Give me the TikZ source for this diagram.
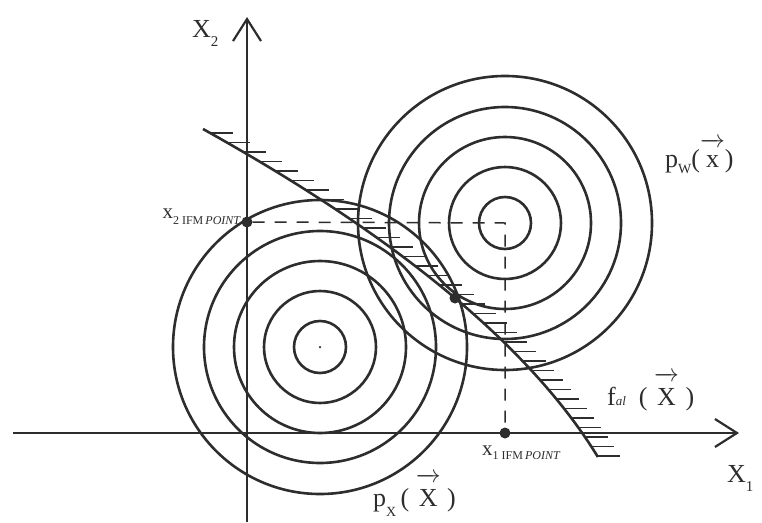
\documentclass[tikz,border=0pt]{standalone}
\usepackage{amsmath}
\usepackage{fontspec}
\setmainfont{Liberation Serif}
\usetikzlibrary{arrows.meta}
\definecolor{ink}{RGB}{45,45,45}
\newcommand{\vecX}[1]{$\overrightarrow{\text{#1}\rule{0pt}{#1pt}}$}
\newcommand{\vecarrow}[2]{$\overrightarrow{\text{#1}\rule{0pt}{#2}}$}
\begin{document}
\begin{tikzpicture}[x=1pt,y=-1pt,
  ring/.style={draw=ink, line width=2.6pt},
  axisline/.style={draw=ink, line width=2.2pt, -{Straight Barb[length=22pt,width=28pt]}},
  curveline/.style={draw=ink, line width=2.6pt},
  hatchline/.style={draw=ink, line width=1.6pt},
  guide/.style={draw=ink, line width=1.5pt, dash pattern=on 12pt off 10pt},
  bigdot/.style={circle, fill=ink, inner sep=0pt, minimum size=11pt},
  smalldot/.style={circle, fill=ink, inner sep=0pt, minimum size=2.5pt},
  lbl/.style={text=ink, inner sep=0pt, font=\fontsize{26}{30}\selectfont},
  plbl/.style={text=ink, inner sep=0pt, font=\fontsize{21}{24}\selectfont}]
\useasboundingbox (0,0) rectangle (762,522);

% centres
\coordinate (cL) at (320,347);
\coordinate (cU) at (505,223);

% concentric rings
\foreach \r in {26,56,86,116,147} {
  \draw[ring] (cL) circle[radius=\r pt];
  \draw[ring] (cU) circle[radius=\r pt];
}
\node[smalldot] (cLdot) at (cL) {};

% constraint curve with hatching
\draw[curveline] plot[domain=129:457, samples=80, variable=\t]
  ({-58.72+226.17*(\t/100)-18.05*(\t/100)*(\t/100)}, \t);
\foreach \t in {133,142.5,...,456} {
  \pgfmathsetmacro\xx{-58.72+226.17*(\t/100)-18.05*(\t/100)*(\t/100)}
  \draw[hatchline] (\xx,\t) -- ++(23,0);
}

% axes
\coordinate (Xw) at (13,433);
\coordinate (Xe) at (739,433);
\coordinate (Ys) at (247,522);
\coordinate (Yn) at (247,17);
\draw[axisline] (Xw) -- (Xe);
\draw[axisline] (Ys) -- (Yn);

% points
\node[bigdot] (P2) at (247,222) {};
\node[bigdot] (P1) at (505,433) {};
\node[bigdot] (T) at (455,298) {};
\draw[guide] (P2) -- (cU) -- (P1);

% labels
\node[lbl, anchor=base west] (lX2) at (192,37) {X\raisebox{-9pt}{\fontsize{15}{15}\selectfont 2}};
\node[lbl, anchor=base west] (lX1) at (727,482) {X\raisebox{-9pt}{\fontsize{15}{15}\selectfont 1}};
\node[lbl, anchor=base west] (lPW) at (665,167) {p\raisebox{-6pt}{\fontsize{14}{14}\selectfont W}(\vecarrow{x}{20pt})};
\node[lbl, anchor=base west] (lPX) at (373,506) {p\raisebox{-10pt}{\fontsize{14}{14}\selectfont X}\,( \vecarrow{X}{24pt} )};
\node[lbl, anchor=base west] (lF) at (607,405) {f\raisebox{0pt}{\fontsize{13}{13}\selectfont\itshape al}\ \ ( \vecarrow{X}{24pt} )};
\node[plbl, anchor=base east] (lx2) at (241,218) {x\raisebox{-6pt}{\fontsize{12}{12}\selectfont 2 IFM\,\textit{POINT}}};
\node[plbl, anchor=base west] (lx1) at (482,455) {x\raisebox{-4pt}{\fontsize{12}{12}\selectfont 1 IFM\,\textit{POINT}}};
\end{tikzpicture}
\end{document}
